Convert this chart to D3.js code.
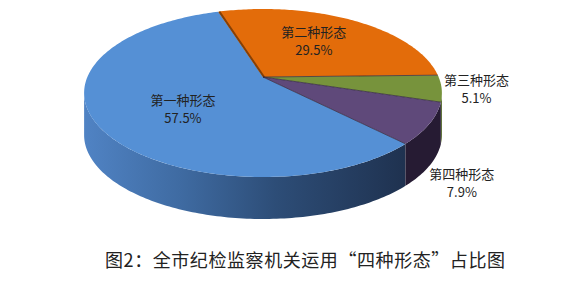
<!DOCTYPE html>
<html>
<head>
<meta charset="utf-8">
<script src="https://cdn.jsdelivr.net/npm/d3@7/dist/d3.min.js"></script>
<style>
  body { margin: 0; background: #fff; }
  text { font-family: "Noto Sans CJK SC", "Noto Sans", sans-serif; }
</style>
</head>
<body>
<div id="chart"></div>
<script>
// data
var categories = ["第一种形态", "第二种形态", "第三种形态", "第四种形态"];
var values = [57.5, 29.5, 5.1, 7.9];
var labels = ["57.5%", "29.5%", "5.1%", "7.9%"];
var topColors = ["#5590d5", "#e36c0a", "#77933c", "#5f497a"];
var title = "图2：全市纪检监察机关运用“四种形态”占比图";

var width = 579, height = 283;

// perspective settings for the tilted pie
var cx = 263, cy = 77, A = 922, B = 425, D = 5.25, depth = 42;
var deg = Math.PI / 180;
var sideFrom = 100.97 * deg, sideTo = 259.03 * deg;   // visible front wall
var labelNudge = [[7.5, 8.5], [-1, -2], [-2, -1], [-5.5, 3.5]];
var lineGap = 17.5;

function proj(a, r) {
    var u = r * Math.sin(a), v = -r * Math.cos(a);
    var s = 1 / (D - v);
    return [cx + A * u * s, cy + B * v * s];
}

function arcPts(a0, a1, r, dy) {
    var n = Math.max(2, Math.ceil(Math.abs(a1 - a0) / deg));
    var pts = [];
    for (var k = 0; k <= n; k++) {
        var p = proj(a0 + (a1 - a0) * k / n, r);
        pts.push([p[0], p[1] + dy]);
    }
    return pts;
}

var line = d3.line();

var svg = d3.select("#chart").append("svg")
    .attr("width", width)
    .attr("height", height);

var defs = svg.append("defs");
var grad = defs.append("linearGradient")
    .attr("id", "blueSide")
    .attr("gradientUnits", "userSpaceOnUse")
    .attr("x1", 84).attr("x2", 404).attr("y1", 0).attr("y2", 0);
[[0, "#5083c4"], [0.3, "#3f6ba2"], [0.6, "#2d4d77"], [1, "#1f3250"]].forEach(function (s) {
    grad.append("stop").attr("offset", s[0]).attr("stop-color", s[1]);
});
var sideColors = ["url(#blueSide)", "#8a4306", "#4f6327", "#261b33"];

var pie = d3.pie().sort(null)
    .startAngle(135.5 * deg)
    .endAngle(495.5 * deg);
var arcs = pie(values);

// side walls
arcs.forEach(function (d) {
    [0, 2 * Math.PI].forEach(function (off) {
        var b0 = Math.max(d.startAngle, sideFrom + off);
        var b1 = Math.min(d.endAngle, sideTo + off);
        if (b1 <= b0) return;
        var topEdge = arcPts(b0, b1, 1, 0);
        var bottom = arcPts(b1, b0, 1, depth);
        svg.append("path")
            .attr("d", line(topEdge.concat(bottom)) + "Z")
            .attr("fill", sideColors[d.index]);
    });
});

// top faces
arcs.forEach(function (d) {
    var pts = [[cx, cy]].concat(arcPts(d.startAngle, d.endAngle, 1, 0));
    svg.append("path")
        .attr("d", line(pts) + "Z")
        .attr("fill", topColors[d.index]);
});

// radial edges
arcs.forEach(function (d) {
    var p = proj(d.startAngle, 1);
    var isOrange = d.index === 1;
    svg.append("line")
        .attr("x1", cx + (isOrange ? 1 : 0)).attr("y1", cy)
        .attr("x2", p[0] + (isOrange ? 1 : 0)).attr("y2", p[1])
        .attr("stroke", isOrange ? "#7a3b06" : "#2c2238")
        .attr("stroke-width", isOrange ? 2 : 1)
        .attr("stroke-opacity", isOrange ? 0.9 : 0.7);
});

// data labels
arcs.forEach(function (d) {
    var mid = (d.startAngle + d.endAngle) / 2;
    var inside = d.data > 20;
    var p = proj(mid, inside ? 0.55 : 1.2);
    var m = ((mid % (2 * Math.PI)) + 2 * Math.PI) % (2 * Math.PI);
    if (!inside && m > sideFrom && m < sideTo) p[1] += depth + 4;
    var x = p[0] + labelNudge[d.index][0];
    var y = p[1] + labelNudge[d.index][1];
    var t = svg.append("text")
        .attr("text-anchor", "middle")
        .attr("font-size", 13)
        .attr("fill", "#222");
    t.append("tspan").attr("x", x).attr("y", y - lineGap / 2 + 4.5).text(categories[d.index]);
    t.append("tspan").attr("x", x).attr("y", y + lineGap / 2 + 4.5).text(labels[d.index]);
});

// caption
svg.append("text")
    .attr("x", 105).attr("y", 267)
    .attr("font-size", 18)
    .attr("fill", "#222")
    .attr("textLength", 400)
    .attr("lengthAdjust", "spacing")
    .text(title);
</script>
</body>
</html>
